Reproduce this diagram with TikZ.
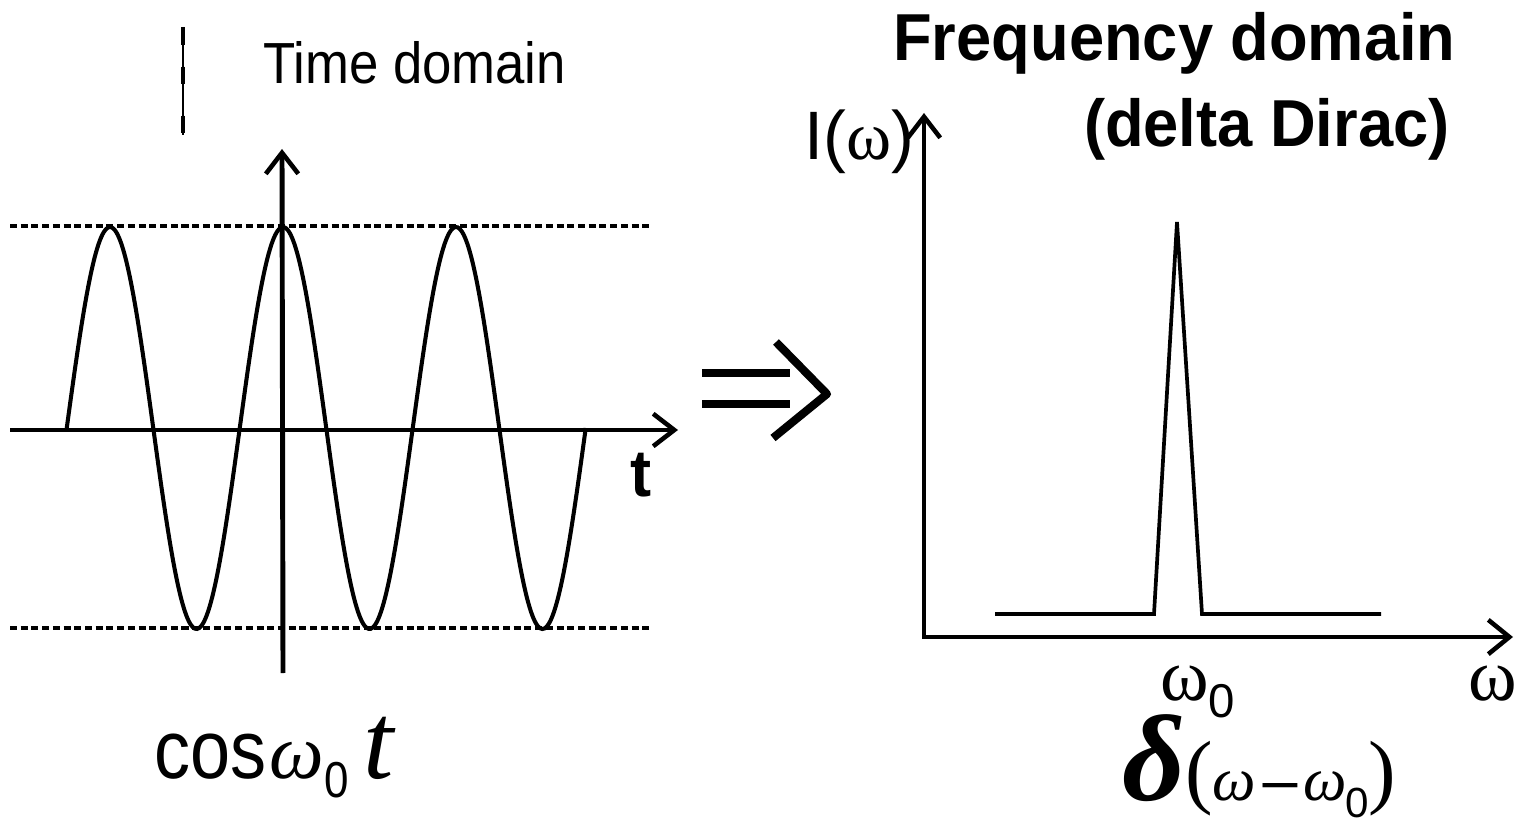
\documentclass[tikz,border=0pt]{standalone}
\usepackage{fontspec}
\setmainfont{Liberation Sans}
\newfontfamily\tms{Liberation Serif}
\usetikzlibrary{arrows.meta}
\newcommand\fsz[1]{\fontsize{#1}{#1}\selectfont}
\newcommand\tall[2]{\scalebox{1}[#1]{#2}}
\begin{document}
\begin{tikzpicture}[x=0.02cm,y=-0.02cm,
  axis/.style={line width=2.8pt,line join=miter},
  tip/.style={-{Straight Barb[length=12pt,width=18.5pt,line width=2.6pt]}},
  wave/.style={line width=2.3pt},
  sig/.style={line width=2.1pt,line join=miter},
  guide/.style={line width=2pt,dash pattern=on 4pt off 2.1pt},
  fat/.style={line width=4.6pt},
  lbl/.style={inner sep=0pt,anchor=base west}]
\useasboundingbox (0,0) rectangle (1525,827);
% ---- left panel coordinates
\coordinate (tx0) at (10,430);
\coordinate (tx1) at (678,430);
\coordinate (ty0) at (283,673);
\coordinate (ty1) at (282,149);
\coordinate (dtl) at (10,226);
\coordinate (dtr) at (650,226);
\coordinate (dbl) at (10,628);
\coordinate (dbr) at (650,628);
\coordinate (vs0) at (183,27);
\coordinate (vs1) at (183,135);
% guides
\draw[guide] (dtl) -- (dtr);
\draw[guide] (dbl) -- (dbr);
% small marker line
\draw[line width=0.7pt] (vs0) -- (vs1);
\draw[line width=2.8pt,dash pattern=on 10.5pt off 12pt on 10pt off 18pt on 10pt] (vs0) -- (vs1);
% waveform
\draw[wave] plot[domain=66.75:585.75,samples=240,smooth] (\x,{428-201*cos(2.080925*(\x-283))});
% axes
\draw[axis,tip] (tx0) -- (tx1);
\draw[axis,tip] (ty0) -- (ty1);
% labels left
\node[lbl] (timelbl) at (263,84) {\tall{1.1}{\fsz{30pt}Time domain}};
\node[lbl] (tlbl) at (630,497) {\tall{1.05}{\fsz{36pt}\bfseries t}};
\node[lbl] (coslbl) at (154,778) {\tall{1.15}{\fsz{41pt}cos}\hspace{2pt}{\tms\itshape\fsz{44pt}ω}\raisebox{-11pt}{\tall{1.15}{\fsz{25pt}0}}\hspace{8pt}{\tms\itshape\fsz{62pt}t}};
% ---- implies symbol
\coordinate (b1a) at (702,373);
\coordinate (b1b) at (790,373);
\coordinate (b2a) at (702,404);
\coordinate (b2b) at (790,404);
\coordinate (cvu) at (776,342);
\coordinate (cvt) at (827,394);
\coordinate (cvl) at (773,438);
\draw[fat] (b1a) -- (b1b);
\draw[fat] (b2a) -- (b2b);
\draw[fat,line join=round] (cvu) -- (cvt) -- (cvl);
% ---- right panel
\coordinate (orig) at (924,637);
\coordinate (wx1) at (1513,637);
\coordinate (wy1) at (924,113);
\draw[axis,{Straight Barb[length=12pt,width=18.5pt,line width=2.6pt]}-{Straight Barb[length=12pt,width=19.5pt,line width=2.6pt]}] (wy1) -- (orig) -- (wx1);
\coordinate (s0) at (995,614);
\coordinate (s1) at (1154,614);
\coordinate (s2) at (1177,222);
\coordinate (s3) at (1202,614);
\coordinate (s4) at (1381,614);
\draw[sig] (s0) -- (s1) -- (s2) -- (s3) -- (s4);
% labels right
\node[lbl,anchor=base east] (freq1) at (1456,61) {\tall{1.05}{\fsz{36pt}\bfseries Frequency domain}};
\node[lbl,anchor=base east] (freq2) at (1450,147) {\tall{1.05}{\fsz{36pt}\bfseries (delta Dirac)}};
\node[lbl] (Ilbl) at (804,160) {\fsz{39pt}I({\tms\fsz{39pt}ω})};
\node[lbl] (w0lbl) at (1160,700) {{\tms\fsz{42pt}ω}\raisebox{-10pt}{\fsz{27pt}0}};
\node[lbl] (wlbl) at (1468,700) {\tms\fsz{42pt}ω};
\node[lbl] (deltalbl) at (1122,800) {{\tms\bfseries\itshape\fsz{70pt}δ}{\tms\fsz{47pt}\raisebox{1pt}{(}}{\tms\itshape\fsz{35pt}ω}\hspace{2pt}\raisebox{-3pt}{\scalebox{1.2}[1]{\fsz{34pt}−}}\hspace{1pt}{\tms\itshape\fsz{35pt}ω}\hspace{-1pt}\raisebox{-10pt}{\fsz{24pt}0}\hspace{0pt}{\tms\fsz{47pt}\raisebox{1pt}{)}}};
\end{tikzpicture}
\end{document}
